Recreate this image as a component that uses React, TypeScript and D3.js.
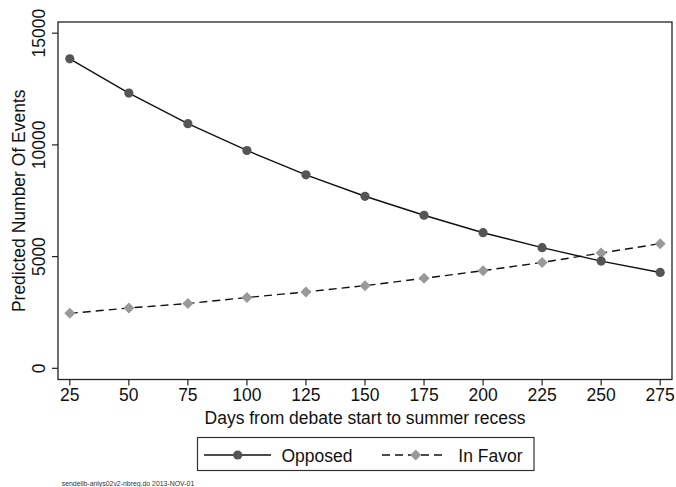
import React from "react";
import * as d3 from "d3";

// days from debate start to summer recess
const days = [25, 50, 75, 100, 125, 150, 175, 200, 225, 250, 275];
// predicted number of events
const opposed = [13850, 12320, 10950, 9750, 8660, 7700, 6850, 6070, 5400, 4800, 4290];
const inFavor = [2460, 2700, 2900, 3170, 3420, 3700, 4030, 4370, 4740, 5160, 5580];
const yTicks = [0, 5000, 10000, 15000];
const xTicks = [25, 50, 75, 100, 125, 150, 175, 200, 225, 250, 275];

const W = 676;
const H = 487;
const font = "'Liberation Sans', Arial, Helvetica, sans-serif";
const plot = { left: 58, right: 672, top: 22, bottom: 379.5 };

const App = () => {
  const x = d3.scaleLinear().domain([20, 280]).range([plot.left, plot.right]);
  const y = d3.scaleLinear().domain([-500, 15500]).range([plot.bottom, plot.top]);

  const line = d3
    .line<number>()
    .x((d, i) => x(days[i]))
    .y((d) => y(d));

  const diamond = (cx: number, cy: number, r: number) =>
    `M${cx},${cy - r}L${cx + r},${cy}L${cx},${cy + r}L${cx - r},${cy}Z`;

  return (
    <svg
      width={W}
      height={H}
      style={{ position: "absolute", left: 0, top: 0, background: "#fff" }}
      fontFamily={font}
    >
      <rect x={0} y={0} width={W} height={H} fill="#fff" />

      {/* frame */}
      <rect
        x={plot.left}
        y={plot.top}
        width={plot.right - plot.left}
        height={plot.bottom - plot.top}
        fill="none"
        stroke="#222"
        strokeWidth={1.3}
      />

      {/* y axis */}
      {yTicks.map((t) => (
        <g key={"y" + t}>
          <line x1={plot.left - 6} x2={plot.left} y1={y(t)} y2={y(t)} stroke="#222" strokeWidth={1.2} />
          <text
            transform={`translate(44.5,${y(t)}) rotate(-90)`}
            textAnchor="middle"
            fontSize={17.5}
            fill="#111"
          >
            {t}
          </text>
        </g>
      ))}
      <text
        transform={`translate(25,${(plot.top + plot.bottom) / 2}) rotate(-90)`}
        textAnchor="middle"
        fontSize={17.5}
        fill="#111"
      >
        Predicted Number Of Events
      </text>

      {/* x axis */}
      {xTicks.map((t) => (
        <g key={"x" + t}>
          <line x1={x(t)} x2={x(t)} y1={plot.bottom} y2={plot.bottom + 6} stroke="#222" strokeWidth={1.2} />
          <text x={x(t)} y={401} textAnchor="middle" fontSize={17.5} fill="#111">
            {t}
          </text>
        </g>
      ))}
      <text x={(plot.left + plot.right) / 2 - 0} y={423.5} textAnchor="middle" fontSize={17.5} fill="#111">
        Days from debate start to summer recess
      </text>

      {/* series */}
      <path d={line(opposed) || ""} fill="none" stroke="#111" strokeWidth={1.4} />
      <path d={line(inFavor) || ""} fill="none" stroke="#111" strokeWidth={1.4} strokeDasharray="8,5" />
      {inFavor.map((v, i) => (
        <path key={"f" + i} d={diamond(x(days[i]), y(v), 5.5)} fill="#999" />
      ))}
      {opposed.map((v, i) => (
        <circle key={"o" + i} cx={x(days[i])} cy={y(v)} r={4.6} fill="#555" />
      ))}

      {/* legend */}
      <rect x={197.5} y={437.5} width={336.5} height={33} fill="#fff" stroke="#333" strokeWidth={1.2} />
      <line x1={204} x2={271} y1={455} y2={455} stroke="#111" strokeWidth={1.4} />
      <circle cx={237.7} cy={455} r={4.6} fill="#555" />
      <text x={281.5} y={461.5} fontSize={17.5} fill="#111">
        Opposed
      </text>
      <line x1={382} x2={447} y1={455} y2={455} stroke="#111" strokeWidth={1.4} strokeDasharray="8,5" />
      <path d={diamond(415.7, 455, 5.5)} fill="#999" />
      <text x={458.3} y={461.5} fontSize={17.5} fill="#111">
        In Favor
      </text>

      {/* footnote */}
      <text x={61.7} y={485.5} fontSize={6.9} fill="#333">
        sendelib-anlys02v2-nbreg.do 2013-NOV-01
      </text>
    </svg>
  );
};

export default App;
